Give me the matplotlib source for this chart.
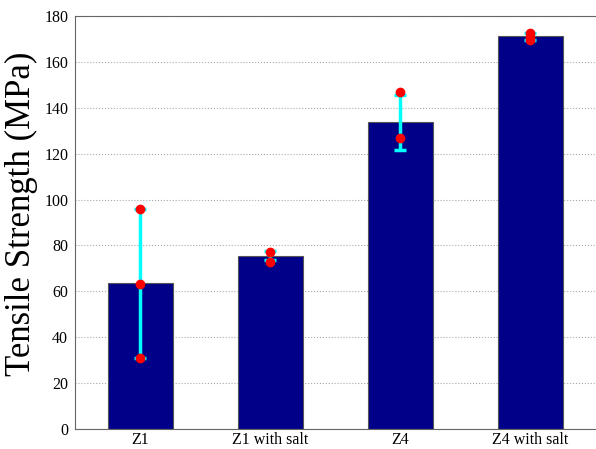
import matplotlib
matplotlib.use('Agg')
import matplotlib.pyplot as plt
import numpy as np

plt.rcParams['font.family'] = ['Liberation Serif', 'DejaVu Serif']

# dados
categorias = ['Z1', 'Z1 with salt', 'Z4', 'Z4 with salt']
medias = [63.5, 75.5, 133.7, 171.2]
erros = [32.4, 2.0, 12.0, 1.5]
# pontos individuais (amostras)
pontos_z1 = [31.0, 63.4, 95.9]
pontos_z1sal = [77.0, 72.8]
pontos_z4 = [146.9, 126.8]
pontos_z4sal = [172.5, 169.5, 171.0]
pontos = [pontos_z1, pontos_z1sal, pontos_z4, pontos_z4sal]

x = np.arange(1, len(categorias) + 1)

fig = plt.figure(figsize=(5.96, 4.49), dpi=100)
# eixo um pouco além da borda direita (espinha direita fica fora da imagem)
ax = fig.add_axes([0.126, 0.0445, 0.878, 0.92])

ax.bar(x, medias, width=0.5, color='#000088', edgecolor='#555555', linewidth=0.8, zorder=2)
ax.errorbar(x, medias, yerr=erros, fmt='none', ecolor='cyan', elinewidth=2.5,
            capsize=4, capthick=2.5, zorder=3)
for i in range(len(x)):
    ax.plot([x[i]] * len(pontos[i]), pontos[i], 'o', color='red', markersize=6, zorder=4)

ax.set_xlim(0.5, 4.525)
ax.set_ylim(0, 180)
ax.set_yticks(np.arange(0, 181, 20))
ax.set_xticks(x)
ax.set_xticklabels(categorias)
ax.yaxis.grid(True, linestyle=':', color='#aaaaaa', linewidth=0.8)
ax.set_axisbelow(True)
for s in ax.spines.values():
    s.set_color('#666666')
ax.tick_params(axis='y', length=0, labelsize=11.5, pad=5)
ax.tick_params(axis='x', length=0, labelsize=11.5, pad=2)
ax.set_ylabel('Tensile Strength (MPa)', fontsize=25, labelpad=0)
ax.yaxis.set_label_coords(-0.071, 0.52)

fig.savefig('out.png', dpi=100)
